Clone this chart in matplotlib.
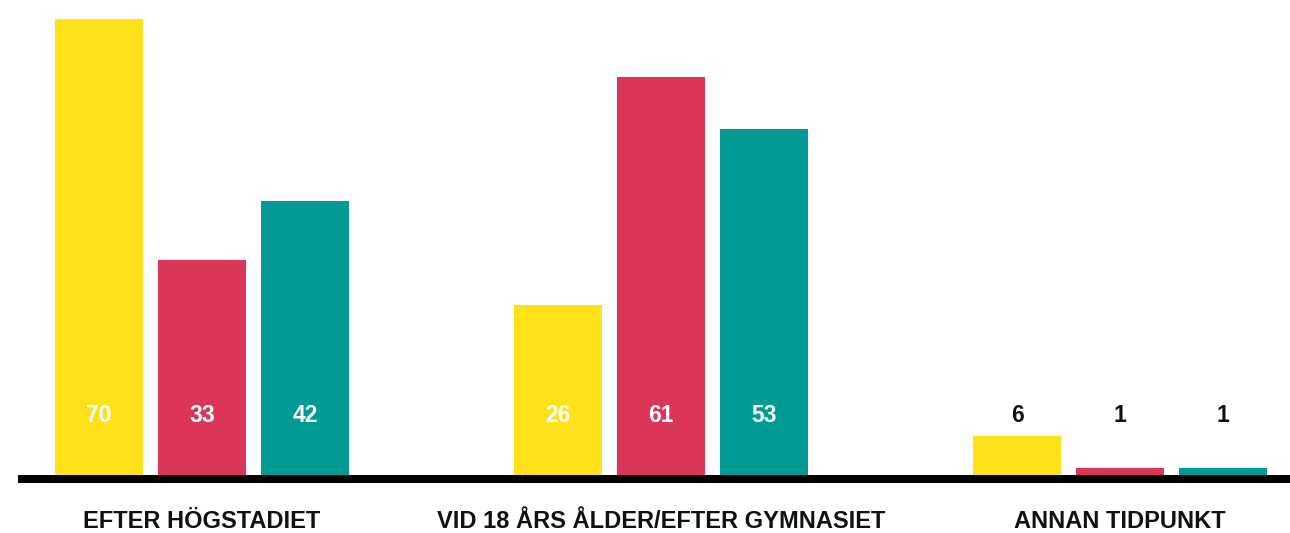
import matplotlib
matplotlib.use("Agg")
import matplotlib.pyplot as plt
import numpy as np

categories = ["EFTER HÖGSTADIET", "VID 18 ÅRS ÅLDER/EFTER GYMNASIET", "ANNAN TIDPUNKT"]
series_a = [70, 26, 6]
series_b = [33, 61, 1]
series_c = [42, 53, 1]
series = [series_a, series_b, series_c]
colors = ["#FFE11A", "#DB3659", "#019A94"]

plt.rcParams['font.family'] = ['Liberation Sans', 'DejaVu Sans']

W, H = 1290, 533
fig = plt.figure(figsize=(W / 100, H / 100), dpi=100)
fig.patch.set_facecolor("white")

px_per_unit = 6.52
base_px = 479  # centre of baseline (from top)
bar_base_px = 475
ax_bottom = (H - base_px) / H
ax = fig.add_axes([18 / W, ax_bottom, 1 - 18 / W, 1 - ax_bottom])

group_step = 459.0
x0_px = 202.0
offset = 103.0 / group_step
width = 88.0 / group_step
ax.set_xlim((18 - x0_px) / group_step, (1290 - x0_px) / group_step)
ymin = -(base_px - bar_base_px) / px_per_unit
ax.set_ylim(ymin, ymin + base_px / px_per_unit)

x = np.arange(len(categories))
label_y = (bar_base_px - 415) / px_per_unit
for k, (vals, col) in enumerate(zip(series, colors)):
    xs = x + (k - 1) * offset
    ax.bar(xs, vals, width=width, color=col, zorder=1, linewidth=0)
    for xi, v in zip(xs, vals):
        inside = v > label_y + 2.5
        ax.text(xi, label_y, str(v), ha="center", va="center",
                fontsize=16.5, fontweight="bold",
                color="white" if inside else "#111111", zorder=3)

cat_y = -(522 - bar_base_px) / px_per_unit
for xi, c in zip(x, categories):
    ax.text(xi, cat_y, c, ha="center", va="center", fontsize=17,
            fontweight="bold", color="#111111", clip_on=False)

for s in ["top", "right", "left"]:
    ax.spines[s].set_visible(False)
ax.spines["bottom"].set_linewidth(8 * 72 / 100)
ax.spines["bottom"].set_color("black")
ax.spines["bottom"].set_capstyle("butt")
ax.set_xticks([])
ax.set_yticks([])
ax.patch.set_alpha(0)

fig.savefig("out.png", dpi=100, facecolor="white")
